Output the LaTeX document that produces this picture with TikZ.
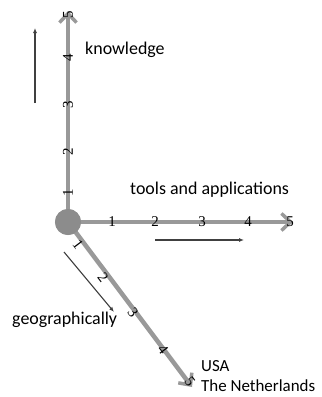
\documentclass[tikz,border=0pt]{standalone}
\usepackage{fontspec}
\setmainfont{Carlito}
\newfontfamily\numfont{Liberation Serif}
\usetikzlibrary{positioning,arrows.meta}

\begin{document}
\begin{tikzpicture}[x=1bp,y=-1bp,
% node style
hub/.style={circle, fill=black!45, minimum size=26bp, inner sep=0pt},
axis/.style={line width=4.5bp, black!40, -{Straight Barb[length=9bp,width=17bp,line width=3.5bp]}},
hint/.style={line width=1.1bp, black!75, -{Latex[length=5bp,width=4bp]}},
num/.style={font=\numfont\fontsize{15}{15}\selectfont, inner sep=0pt},
lbl/.style={font=\fontsize{18}{21}\selectfont, anchor=west, inner sep=0pt, align=left}
]
\useasboundingbox (0,0) rectangle (322,397);

% nodes
\node[hub] (origin) at (68,222) {};
\coordinate (know_end) at (68,11);
\coordinate (tool_end) at (293,222);
\coordinate (geo_end) at (192,387);

% draw axes between nodes
\draw[axis] (origin.center) -- (know_end);
\draw[axis] (origin.center) -- (tool_end);
\draw[axis] (origin.center) -- (geo_end);
\node[hub] at (origin) {};

% numbers on the axes
\foreach \y [count=\i] in {193,152,105,58,15}
  \node[num, rotate=90] (know_\i) at (68,\y) {\i};
\foreach \x [count=\i] in {112,155,202,248,290}
  \node[num] (tool_\i) at (\x,222) {\i};
\foreach \x/\y [count=\i] in {78/245,103/278,133/313,163/350,190/382}
  \node[num, rotate=-53] (geo_\i) at (\x,\y) {\i};

% labels
\node[lbl] (knowledge) at (85,50) {knowledge};
\node[lbl] (tools) at (130,190) {tools and applications};
\node[lbl] (geo) at (12,320) {geographically};
\node[lbl, font=\fontsize{17}{20}\selectfont] (places) at (201,376) {USA\\The Netherlands};

% direction hints
\coordinate (up_a) at (35,103);
\coordinate (up_b) at (35,28);
\coordinate (right_a) at (155,240);
\coordinate (right_b) at (244,240);
\coordinate (down_a) at (64,252);
\coordinate (down_b) at (114,312);
\draw[hint] (up_a) -- (up_b);
\draw[hint] (right_a) -- (right_b);
\draw[hint] (down_a) -- (down_b);

\end{tikzpicture}
\end{document}
